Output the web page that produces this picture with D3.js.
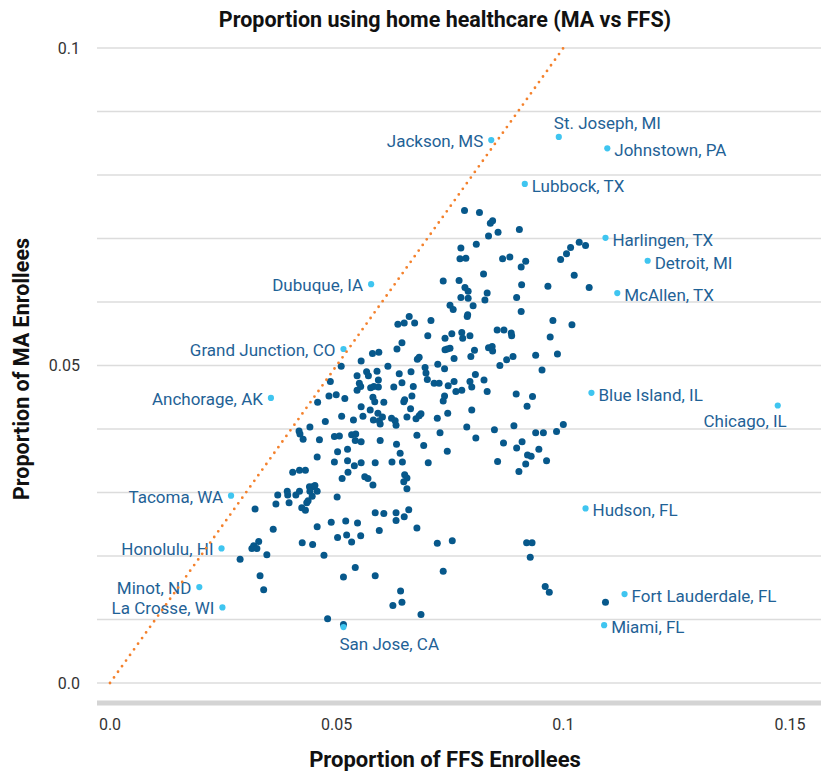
<!DOCTYPE html>
<html>
<head>
<meta charset="utf-8">
<script src="https://cdn.jsdelivr.net/npm/d3@7"></script>
<style>
  body { margin: 0; background: #fff; }
  svg { display: block; font-family: Roboto, "Noto Sans", sans-serif; }
</style>
</head>
<body>
<svg id="chart" width="821" height="771"></svg>
<script>
// proportion of FFS enrollees (x) and MA enrollees (y) per region, unlabelled regions
const ffsShare = [
  0.0782,0.0815,0.0839,0.0844,0.0856,0.0835,0.0903,0.0808,0.0774,0.0772,
  0.0785,0.0866,0.0882,0.0917,0.0907,0.0824,0.0735,0.0770,0.0783,0.0790,
  0.0832,0.0774,0.0790,0.0827,0.0897,0.0908,0.0966,0.1057,0.1024,0.0994,
  0.1007,0.1016,0.1035,0.1049,0.0750,0.0757,0.0801,0.0907,0.0788,0.0708,
  0.0672,0.0660,0.0977,0.1019,0.0701,0.0739,0.0754,0.0776,0.0794,0.0778,
  0.0854,0.0869,0.0885,0.0886,0.0971,0.0789,0.0739,0.0744,0.0750,0.0678,
  0.0682,0.0695,0.0697,0.0700,0.0723,0.0738,0.0759,0.0796,0.0804,0.0835,
  0.0843,0.0844,0.0860,0.0875,0.0889,0.0939,0.0987,0.0953,0.0664,0.0669,
  0.0666,0.0663,0.0715,0.0726,0.0746,0.0759,0.0763,0.0776,0.0794,0.0798,
  0.0806,0.0825,0.0832,0.0738,0.0735,0.0745,0.0722,0.0675,0.0682,0.0686,
  0.0798,0.0896,0.0932,0.0920,0.0787,0.0848,0.0891,0.1000,0.0985,0.0939,
  0.0956,0.0728,0.0807,0.0677,0.0692,0.0744,0.0868,0.0909,0.0897,0.0946,
  0.0855,0.0921,0.0929,0.0963,0.0917,0.0902,0.0702,0.0635,0.0649,0.0644,
  0.0633,0.0579,0.0593,0.0613,0.0554,0.0510,0.0486,0.0545,0.0566,0.0570,
  0.0589,0.0592,0.0550,0.0553,0.0545,0.0575,0.0582,0.0592,0.0626,0.0638,
  0.0644,0.0483,0.0499,0.0518,0.0458,0.0580,0.0584,0.0604,0.0648,0.0650,
  0.0554,0.0574,0.0591,0.0511,0.0537,0.0558,0.0581,0.0594,0.0601,
  0.0596,0.0621,0.0629,0.0631,0.0655,0.0475,0.0441,0.0417,0.0419,0.0426,
  0.0462,0.0495,0.0506,0.0533,0.0542,0.0541,0.0554,0.0596,0.0632,0.0502,
  0.0524,0.0457,0.0495,0.0524,0.0554,0.0539,0.0585,0.0622,0.0645,0.0640,
  0.0403,0.0418,0.0431,0.0512,0.0525,0.0562,0.0569,0.0650,0.0655,0.0320,
  0.0360,0.0366,0.0370,0.0391,0.0392,0.0395,0.0410,0.0418,0.0423,0.0431,
  0.0434,0.0437,0.0440,0.0447,0.0452,0.0441,0.0446,0.0457,0.0501,
  0.0580,0.0648,0.0655,
  0.0313,0.0317,0.0324,0.0328,0.0346,0.0287,0.0331,0.0339,0.0424,0.0447,
  0.0457,0.0472,0.0488,0.0502,0.0520,0.0522,0.0533,0.0546,0.0553,0.0585,
  0.0604,0.0594,0.0631,0.0631,0.0649,0.0659,0.0541,0.0515,0.0585,0.0641,
  0.0644,0.0624,0.0480,0.0515,
  0.0677,0.0722,0.0755,0.0735,0.0919,0.0931,0.0927,0.0960,0.0969,0.0686,0.1093
];
const maShare = [
  0.0744,0.0741,0.0724,0.0728,0.0710,0.0704,0.0714,0.0691,0.0685,0.0668,
  0.0669,0.0668,0.0671,0.0664,0.0655,0.0644,0.0633,0.0634,0.0623,0.0617,
  0.0614,0.0607,0.0606,0.0603,0.0607,0.0627,0.0625,0.0623,0.0642,0.0667,
  0.0676,0.0686,0.0694,0.0689,0.0595,0.0588,0.0594,0.0585,0.0577,0.0571,
  0.0567,0.0577,0.0571,0.0564,0.0547,0.0543,0.0550,0.0552,0.0547,0.0543,
  0.0556,0.0556,0.0551,0.0547,0.0545,0.0580,0.0525,0.0526,0.0527,0.0510,
  0.0513,0.0497,0.0488,0.0478,0.0502,0.0495,0.0511,0.0514,0.0524,0.0528,
  0.0530,0.0523,0.0500,0.0509,0.0514,0.0516,0.0518,0.0493,0.0490,0.0467,
  0.0452,0.0432,0.0472,0.0472,0.0468,0.0475,0.0459,0.0461,0.0475,0.0466,
  0.0486,0.0477,0.0459,0.0452,0.0444,0.0425,0.0417,0.0416,0.0421,0.0424,
  0.0430,0.0455,0.0451,0.0436,0.0403,0.0399,0.0405,0.0407,0.0396,0.0394,
  0.0394,0.0394,0.0386,0.0390,0.0374,0.0365,0.0378,0.0380,0.0370,0.0368,
  0.0349,0.0359,0.0357,0.0350,0.0345,0.0333,0.0347,0.0565,0.0567,0.0536,
  0.0526,0.0519,0.0521,0.0499,0.0507,0.0499,0.0475,0.0484,0.0490,0.0484,
  0.0491,0.0477,0.0472,0.0467,0.0461,0.0465,0.0467,0.0466,0.0466,0.0487,
  0.0473,0.0452,0.0454,0.0448,0.0442,0.0450,0.0443,0.0442,0.0443,0.0446,
  0.0435,0.0430,0.0425,0.0420,0.0414,0.0420,0.0414,0.0413,0.0419,
  0.0408,0.0417,0.0413,0.0406,0.0419,0.0412,0.0403,0.0397,0.0392,0.0384,
  0.0383,0.0388,0.0389,0.0391,0.0392,0.0382,0.0380,0.0382,0.0376,0.0364,
  0.0368,0.0356,0.0348,0.0350,0.0347,0.0342,0.0347,0.0348,0.0348,0.0362,
  0.0332,0.0335,0.0335,0.0322,0.0332,0.0325,0.0322,0.0328,0.0323,0.0274,
  0.0242,0.0282,0.0296,0.0302,0.0296,0.0284,0.0296,0.0302,0.0276,0.0272,
  0.0284,0.0287,0.0309,0.0309,0.0311,0.0302,0.0294,0.0302,0.0293,
  0.0312,0.0317,0.0306,
  0.0212,0.0216,0.0212,0.0223,0.0202,0.0195,0.0169,0.0147,0.0221,0.0218,
  0.0246,0.0201,0.0253,0.0229,0.0255,0.0233,0.0222,0.0252,0.0232,0.0268,
  0.0267,0.0240,0.0268,0.0256,0.0262,0.0273,0.0182,0.0167,0.0169,0.0145,
  0.0127,0.0122,0.0101,0.0092,
  0.0244,0.0220,0.0224,0.0176,0.0221,0.0221,0.0198,0.0152,0.0143,0.0108,0.0127
];

// highlighted regions
const cityNames = [
  "Jackson, MS", "St. Joseph, MI", "Johnstown, PA", "Lubbock, TX", "Harlingen, TX",
  "Detroit, MI", "McAllen, TX", "Dubuque, IA", "Grand Junction, CO", "Anchorage, AK",
  "Blue Island, IL", "Chicago, IL", "Tacoma, WA", "Hudson, FL", "Honolulu, HI",
  "Minot, ND", "La Crosse, WI", "Fort Lauderdale, FL", "Miami, FL", "San Jose, CA"
];
const cityFfs = [
  0.0841, 0.0990, 0.1097, 0.0915, 0.1093, 0.1186, 0.1119, 0.0576, 0.0515, 0.0355,
  0.1062, 0.1473, 0.0267, 0.1049, 0.0246, 0.0197, 0.0248, 0.1135, 0.1090, 0.0515
];
const cityMa = [
  0.0855, 0.0860, 0.0842, 0.0786, 0.0701, 0.0665, 0.0614, 0.0628, 0.0526, 0.0449,
  0.0457, 0.0437, 0.0295, 0.0275, 0.0212, 0.0151, 0.0119, 0.0140, 0.0091, 0.0088
];
const labelSide = [
  "left", "above", "right", "right", "right", "right", "right", "left", "left", "left",
  "right", "belowLeft", "left", "right", "left", "left", "left", "right", "right", "below"
];

const xTicks = [0, 0.05, 0.1, 0.15];
const yTicks = [0, 0.05, 0.1];
const yGrid = d3.range(0, 0.1001, 0.01);

const plot = { left: 97, right: 821, top: 48, bottom: 703 };

const svg = d3.select("#chart");

const x = d3.scaleLinear().domain([0, 0.15]).range([110, 790]);
const y = d3.scaleLinear().domain([0, 0.1]).range([683, 48]);

// horizontal grid
svg.append("g")
  .selectAll("line")
  .data(yGrid)
  .enter()
  .append("line")
  .attr("x1", plot.left)
  .attr("x2", plot.right)
  .attr("y1", (d) => y(d))
  .attr("y2", (d) => y(d))
  .attr("stroke", "#dcdcdc")
  .attr("stroke-width", 1.5);

// bottom axis band
svg.append("line")
  .attr("x1", plot.left)
  .attr("x2", plot.right)
  .attr("y1", plot.bottom)
  .attr("y2", plot.bottom)
  .attr("stroke", "#d4d4d4")
  .attr("stroke-width", 5);

// tick labels
svg.append("g")
  .selectAll("text")
  .data(xTicks)
  .enter()
  .append("text")
  .attr("x", (d) => x(d))
  .attr("y", 730)
  .attr("text-anchor", "middle")
  .attr("font-size", 16)
  .attr("fill", "#333")
  .text((d) => (d === 0 ? "0.0" : String(d)));

svg.append("g")
  .selectAll("text")
  .data(yTicks)
  .enter()
  .append("text")
  .attr("x", 80)
  .attr("y", (d) => y(d))
  .attr("dy", "0.35em")
  .attr("text-anchor", "end")
  .attr("font-size", 16)
  .attr("fill", "#333")
  .text((d) => (d === 0 ? "0.0" : String(d)));

// regular points
const points = d3.zip(ffsShare, maShare);
svg.append("g")
  .selectAll("circle")
  .data(points)
  .enter()
  .append("circle")
  .attr("cx", (d) => x(d[0]))
  .attr("cy", (d) => y(d[1]))
  .attr("r", 3.5)
  .attr("fill", "#07588b");

// highlighted points + labels
const cities = cityNames.map((name, i) => ({
  name: name,
  ffs: cityFfs[i],
  ma: cityMa[i],
  side: labelSide[i]
}));

svg.append("g")
  .selectAll("circle")
  .data(cities)
  .enter()
  .append("circle")
  .attr("cx", (d) => x(d.ffs))
  .attr("cy", (d) => y(d.ma))
  .attr("r", 3.1)
  .attr("fill", "#3fc5f0");

const offsets = {
  left: { dx: -8, dy: 1, anchor: "end" },
  right: { dx: 7, dy: 2, anchor: "start" },
  above: { dx: -5, dy: -14, anchor: "start" },
  below: { dx: -4, dy: 17, anchor: "start" },
  belowLeft: { dx: 9, dy: 16, anchor: "end" }
};

svg.append("g")
  .selectAll("text")
  .data(cities)
  .enter()
  .append("text")
  .attr("x", (d) => x(d.ffs) + offsets[d.side].dx)
  .attr("y", (d) => y(d.ma) + offsets[d.side].dy)
  .attr("dy", "0.35em")
  .attr("text-anchor", (d) => offsets[d.side].anchor)
  .attr("font-size", 17)
  .attr("fill", "#1f6296")
  .text((d) => d.name);

// y = x reference line
svg.append("line")
  .attr("x1", x(0))
  .attr("y1", y(0))
  .attr("x2", x(0.1))
  .attr("y2", y(0.1))
  .attr("stroke", "#f4812c")
  .attr("stroke-width", 2.8)
  .attr("stroke-linecap", "round")
  .attr("stroke-dasharray", "0 6.9");

// titles
svg.append("text")
  .attr("x", 445)
  .attr("y", 27)
  .attr("text-anchor", "middle")
  .attr("font-size", 21.5)
  .attr("font-weight", "bold")
  .attr("fill", "#111")
  .text("Proportion using home healthcare (MA vs FFS)");

svg.append("text")
  .attr("x", 445)
  .attr("y", 767)
  .attr("text-anchor", "middle")
  .attr("font-size", 22)
  .attr("font-weight", "bold")
  .attr("fill", "#111")
  .text("Proportion of FFS Enrollees");

svg.append("text")
  .attr("transform", "translate(28.5, 369) rotate(-90)")
  .attr("text-anchor", "middle")
  .attr("font-size", 21.5)
  .attr("font-weight", "bold")
  .attr("fill", "#111")
  .text("Proportion of MA Enrollees");
</script>
</body>
</html>
